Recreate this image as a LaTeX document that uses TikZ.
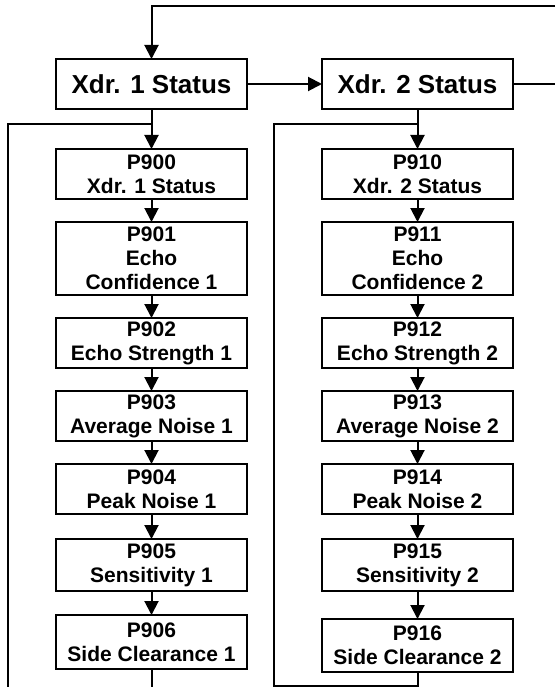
\documentclass[tikz,border=0pt]{standalone}
\usepackage{fontspec}
\setmainfont{Liberation Sans}
\usepackage{xcolor}
\usepackage{tikz}
\usetikzlibrary{arrows.meta,positioning,calc}
\tikzset{
  xdrbox/.style={draw,line width=2.2pt,fill=white,inner sep=0pt,outer sep=0pt,align=center,font=\fontsize{26}{30}\selectfont\bfseries,minimum width=191pt,minimum height=50pt},
  parbox/.style={draw,line width=2.2pt,fill=white,inner sep=0pt,outer sep=0pt,align=center,font=\fontsize{21}{24}\selectfont\bfseries,minimum width=191pt,minimum height=50pt},
  xdrflow/.style={-{Triangle[length=14pt,width=14pt]},line width=2pt},
  xdrline/.style={line width=2pt},
}

\begin{document}
\begin{tikzpicture}[x=1pt,y=-1pt,node distance=23pt]
\useasboundingbox (0,0) rectangle (555,687);
% status boxes
\node[xdrbox](x1) at (151.5,84){Xdr. 1 Status};
\node[xdrbox,right=75pt of x1](x2){Xdr. 2 Status};
% left column
\node[parbox,below=40pt of x1](p900){P900\\Xdr. 1 Status};
\node[parbox,below=of p900,minimum height=73pt](p901){P901\\Echo\\Confidence 1};
\node[parbox,below=of p901](p902){P902\\Echo Strength 1};
\node[parbox,below=of p902](p903){P903\\Average Noise 1};
\node[parbox,below=of p903](p904){P904\\Peak Noise 1};
\node[parbox,below=25pt of p904,minimum height=52pt](p905){P905\\Sensitivity 1};
\node[parbox,below=24pt of p905,minimum height=54pt](p906){P906\\Side Clearance 1};
% right column
\node[parbox,below=40pt of x2](p910){P910\\Xdr. 2 Status};
\node[parbox,below=of p910,minimum height=73pt](p911){P911\\Echo\\Confidence 2};
\node[parbox,below=of p911](p912){P912\\Echo Strength 2};
\node[parbox,below=of p912](p913){P913\\Average Noise 2};
\node[parbox,below=of p913](p914){P914\\Peak Noise 2};
\node[parbox,below=25pt of p914,minimum height=52pt](p915){P915\\Sensitivity 2};
\node[parbox,below=28pt of p915,minimum height=53pt](p916){P916\\Side Clearance 2};
% loop ends
\coordinate(topR) at (555,6);
\coordinate(midR) at (555,84);
\coordinate(botL) at (8,687);
\coordinate(botR) at (274,686);
\coordinate(j1) at ($(x1.south)+(0,15)$);
\coordinate(j2) at ($(x2.south)+(0,15)$);
\draw[xdrflow](topR)-|(x1.north);
\draw[xdrflow](x1)--(x2);
\draw[xdrline](x2.east)--(midR);
\draw[xdrflow](x1)--(p900);
\draw[xdrflow](p900)--(p901);
\draw[xdrflow](p901)--(p902);
\draw[xdrflow](p902)--(p903);
\draw[xdrflow](p903)--(p904);
\draw[xdrflow](p904)--(p905);
\draw[xdrflow](p905)--(p906);
\draw[xdrline](p906.south)--(p906.south|-botL);
\draw[xdrline](botL)|-(j1);
\draw[xdrflow](x2)--(p910);
\draw[xdrflow](p910)--(p911);
\draw[xdrflow](p911)--(p912);
\draw[xdrflow](p912)--(p913);
\draw[xdrflow](p913)--(p914);
\draw[xdrflow](p914)--(p915);
\draw[xdrflow](p915)--(p916);
\draw[xdrline](p916.south)|-(botR)|-(j2);
\end{tikzpicture}
\end{document}
